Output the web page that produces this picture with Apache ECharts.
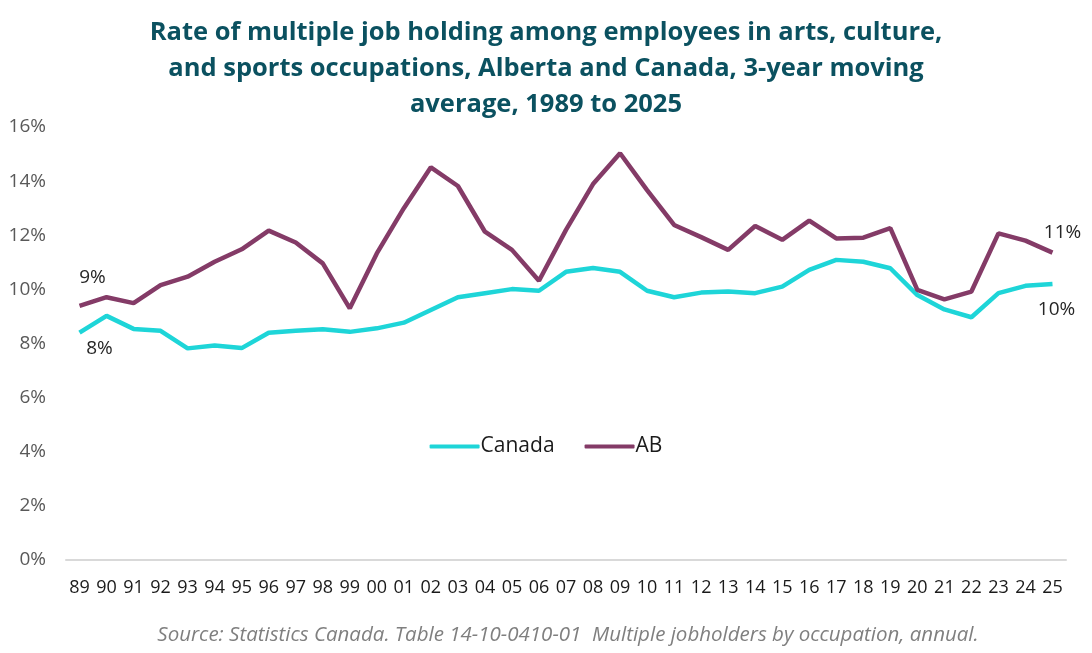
<!DOCTYPE html>
<html>
<head>
<meta charset="utf-8">
<script src="https://cdn.jsdelivr.net/npm/echarts@6/dist/echarts.min.js"></script>
<style>
    html, body {
        margin: 0;
        padding: 0;
        background: #fff;
    }
    #chart {
        width: 1092px;
        height: 653px;
    }
</style>
</head>
<body>
<div id="chart"></div>
<script>
// years shown as two-digit labels
const years = ['89', '90', '91', '92', '93', '94', '95', '96', '97', '98', '99',
    '00', '01', '02', '03', '04', '05', '06', '07', '08', '09', '10', '11', '12',
    '13', '14', '15', '16', '17', '18', '19', '20', '21', '22', '23', '24', '25']

// Canada, % of employees holding multiple jobs
const canada = [8.40, 9.02, 8.54, 8.47, 7.82, 7.93, 7.83, 8.40, 8.47, 8.53, 8.43,
    8.56, 8.77, 9.24, 9.71, 9.86, 10.01, 9.95, 10.65, 10.79, 10.65, 9.95, 9.71, 9.88,
    9.92, 9.86, 10.10, 10.72, 11.09, 11.02, 10.78, 9.79, 9.26, 8.97, 9.86, 10.13, 10.20]

// Alberta
const ab = [9.39, 9.71, 9.49, 10.16, 10.47, 11.02, 11.48, 12.17, 11.73, 10.96, 9.30,
    11.33, 13.00, 14.51, 13.82, 12.13, 11.46, 10.32, 12.20, 13.89, 15.03, 13.67, 12.38, 11.93,
    11.46, 12.34, 11.83, 12.54, 11.88, 11.91, 12.26, 9.98, 9.63, 9.92, 12.07, 11.80, 11.36]

const yTicks = [0, 2, 4, 6, 8, 10, 12, 14, 16]

const titleText = 'Rate of multiple job holding among employees in arts, culture,\n' +
    'and sports occupations, Alberta and Canada, 3-year moving\n' +
    'average, 1989 to 2025'
const sourceText = 'Source: Statistics Canada. Table 14-10-0410-01  Multiple jobholders by occupation, annual.'

const FONT = '"Open Sans", "Noto Sans", sans-serif'

// only label the first and last point of each line
function withEndLabels(values, firstOffset, lastOffset) {
    const last = values.length - 1
    return values.map((v, i) => {
        if (i === 0 || i === last) {
            return {
                value: v,
                label: {
                    show: true,
                    position: 'inside',
                    offset: i === 0 ? firstOffset : lastOffset,
                    formatter: (p) => Math.round(p.value) + '%',
                    color: '#262626',
                    fontSize: 19,
                    fontFamily: FONT,
                },
            }
        }
        return v
    })
}

const chart = echarts.init(document.getElementById('chart'))

const option = {
    backgroundColor: '#fff',
    animation: false,
    title: [
        {
            text: titleText,
            left: 'center',
            top: 10,
            textStyle: {
                color: '#0B5160',
                fontSize: 25.5,
                fontWeight: 'bold',
                fontFamily: FONT,
                lineHeight: 36,
            },
        },
        {
            text: sourceText,
            left: 563,
            top: 620,
            textAlign: 'center',
            textStyle: {
                color: '#7f7f7f',
                fontSize: 20.5,
                fontStyle: 'italic',
                fontWeight: 'normal',
                fontFamily: FONT,
            },
        },
    ],
    legend: {
        data: ['Canada', 'AB'],
        left: 'center',
        top: 431,
        itemWidth: 50,
        itemHeight: 4,
        itemGap: 30,
        icon: 'roundRect',
        textStyle: {
            color: '#1a1a1a',
            fontSize: 21,
            fontFamily: FONT,
            padding: [0, 0, 0, -4],
        },
    },
    grid: {
        left: 66,
        right: 26,
        top: 127,
        bottom: 93,
    },
    xAxis: {
        type: 'category',
        data: years,
        boundaryGap: true,
        axisLine: { lineStyle: { color: '#d9d9d9', width: 2 } },
        axisTick: { show: false },
        axisLabel: {
            interval: 0,
            color: '#1a1a1a',
            fontSize: 18,
            fontFamily: FONT,
            margin: 19,
        },
    },
    yAxis: {
        type: 'value',
        min: 0,
        max: 16,
        interval: 2,
        splitLine: { show: false },
        axisLine: { show: false },
        axisTick: { show: false },
        axisLabel: {
            color: '#595959',
            fontSize: 19,
            fontFamily: FONT,
            margin: 20,
            formatter: (v) => (yTicks.includes(v) ? v + '%' : ''),
        },
    },
    series: [
        {
            name: 'Canada',
            type: 'line',
            data: withEndLabels(canada, [20, 16], [4, 26]),
            symbol: 'circle',
            symbolSize: 0,
            showSymbol: true,
            lineStyle: { color: '#1ED5D8', width: 4.5 },
            itemStyle: { color: '#1ED5D8' },
            z: 2,
        },
        {
            name: 'AB',
            type: 'line',
            data: withEndLabels(ab, [13, -28], [10, -20]),
            symbol: 'circle',
            symbolSize: 0,
            showSymbol: true,
            lineStyle: { color: '#843B67', width: 4.5 },
            itemStyle: { color: '#843B67' },
            z: 3,
        },
    ],
}

chart.setOption(option)
</script>
</body>
</html>
